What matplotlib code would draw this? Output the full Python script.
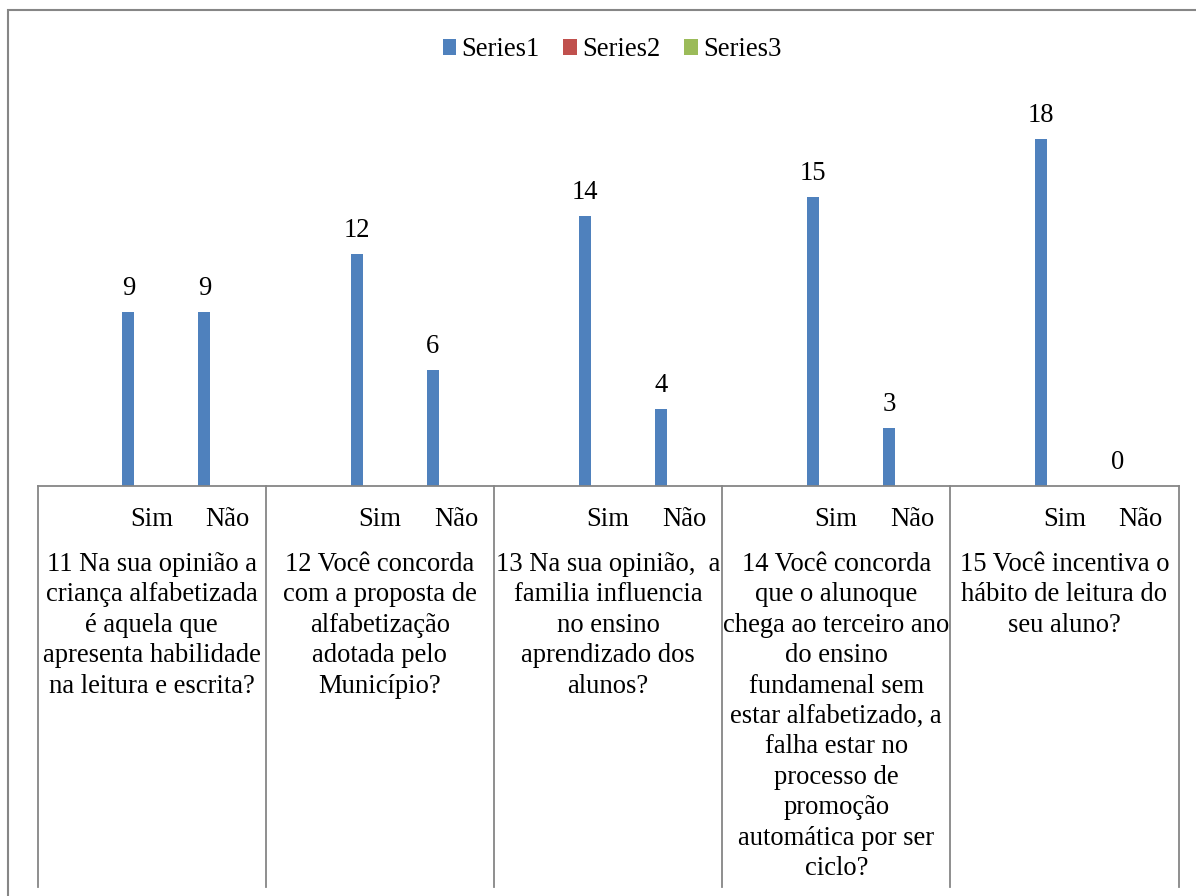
import numpy as np
import matplotlib
matplotlib.use("Agg")
import matplotlib.pyplot as plt
from matplotlib.patches import Patch, Rectangle
from matplotlib.lines import Line2D
import matplotlib.transforms as mtransforms

plt.rcParams['font.family'] = ['Liberation Serif', 'DejaVu Serif']

# Category axis: each question holds a blank slot, "Sim" and "Não"
answers = ["", "Sim", "Não"]
questions = [
    "11 Na sua opinião a\ncriança alfabetizada\né aquela que\napresenta habilidade\nna leitura e escrita?",
    "12 Você concorda\ncom a proposta de\nalfabetização\nadotada pelo\nMunicípio?",
    "13 Na sua opinião,  a\nfamilia influencia\nno ensino\naprendizado dos\nalunos?",
    "14 Você concorda\nque o alunoque\nchega ao terceiro ano\ndo ensino\nfundamenal sem\nestar alfabetizado, a\nfalha estar no\nprocesso de\npromoção\nautomática por ser\nciclo?",
    "15 Você incentiva o\nhábito de leitura do\nseu aluno?",
]
series1 = [np.nan, 9, 9, np.nan, 12, 6, np.nan, 14, 4, np.nan, 15, 3, np.nan, 18, 0]
series2 = [np.nan] * 15
series3 = [np.nan] * 15
series_names = ["Series1", "Series2", "Series3"]
colors = ["#4F81BD", "#C0504D", "#9BBB59"]

W, H = 1196, 896
fig = plt.figure(figsize=(W / 100, H / 100), dpi=100)

# plot area in pixel coordinates
px_left, px_right = 37.5, 1178.5
px_base, px_top = 485.7, 100.3
px_bottom_box = 886.5
ax = fig.add_axes([px_left / W, 1 - px_base / H,
                   (px_right - px_left) / W, (px_base - px_top) / H])

n = len(series1)
x = np.arange(n)
ax.set_xlim(-0.5, n - 0.5)
ax.set_ylim(0, 20)

bar_w = 0.158
offsets = [-0.306, -0.306 + bar_w, -0.306 + 2 * bar_w]
for vals, off, col in zip([series1, series2, series3], offsets, colors):
    v = np.array(vals, dtype=float)
    ax.bar(x + off, np.nan_to_num(v, nan=0.0), width=bar_w, color=col, linewidth=0)

fs = 19.2
for xi, v in zip(x, series1):
    if not np.isnan(v):
        ax.annotate(f"{v:g}", (xi + offsets[0], v), xytext=(0, 8),
                    textcoords="offset points", ha="center", va="bottom", fontsize=fs)

for s in ax.spines.values():
    s.set_visible(False)
ax.set_xticks([])
ax.set_yticks([])

# category box below the baseline
trans = mtransforms.blended_transform_factory(ax.transData, ax.transAxes)
ax_h = px_base - px_top
y_bot = -(px_bottom_box - px_base) / ax_h
line_kw = dict(color="#868686", linewidth=1.3, clip_on=False, transform=trans)
ax.add_line(Line2D([-0.5, n - 0.5], [0, 0], **line_kw))
n_groups = len(questions)
per = len(answers)
for g in range(n_groups + 1):
    xb = -0.5 + g * per
    ax.add_line(Line2D([xb, xb], [0, y_bot], **line_kw))

# answer labels
y_ans = -(520 - px_base) / ax_h
for xi in x:
    lab = answers[xi % per]
    if lab:
        ax.text(xi, y_ans, lab, transform=trans, ha="center", va="center", fontsize=fs)

# question labels
y_q = -(552 - px_base) / ax_h
for g, q in enumerate(questions):
    xc = -0.5 + g * per + per / 2
    ax.text(xc, y_q, q, transform=trans, ha="center", va="top", fontsize=fs,
            linespacing=1.285, multialignment="center")

# legend
handles = [Patch(facecolor=c, edgecolor="none") for c in colors]
fig.legend(handles, series_names, loc="center", bbox_to_anchor=(612 / W, 1 - 50 / H),
           ncol=3, frameon=False, fontsize=fs, handlelength=0.5, handleheight=0.5,
           handletextpad=0.2, columnspacing=0.9, borderaxespad=0)

# chart border
fig.add_artist(Rectangle((8 / W, -0.1), 1.2, 1.1 - 10.5 / H, transform=fig.transFigure,
                         fill=False, edgecolor="#868686", linewidth=1.5))

fig.savefig("out.png", dpi=100)
